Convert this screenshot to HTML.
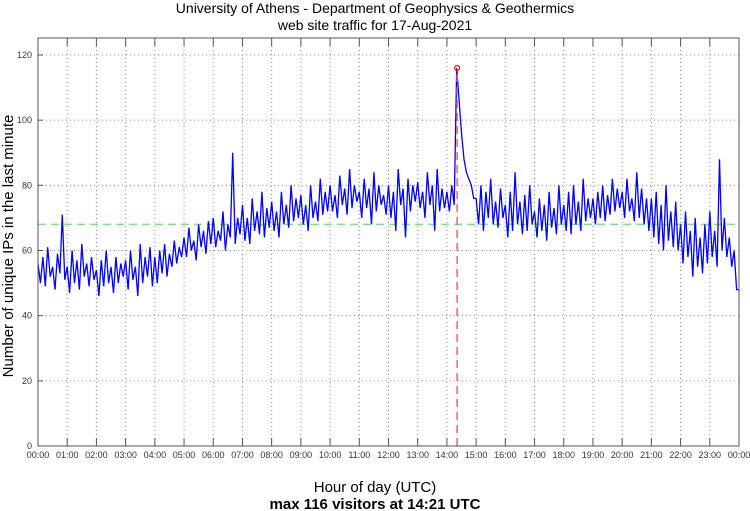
<!DOCTYPE html>
<html><head><meta charset="utf-8"><style>
body{margin:0;background:#fff;}
svg{display:block;font-family:"Liberation Sans",sans-serif;}
</style></head><body>
<svg id="chart" width="750" height="511">
<text x="375" y="13" text-anchor="middle" font-size="14">University of Athens - Department of Geophysics &amp; Geothermics</text>
<text x="375" y="30" text-anchor="middle" font-size="14">web site traffic for 17-Aug-2021</text>
<text transform="translate(13,246) rotate(-90)" text-anchor="middle" font-size="15">Number of unique IPs in the last minute</text>
<text x="375" y="492" text-anchor="middle" font-size="15">Hour of day (UTC)</text>
<text x="375" y="509" text-anchor="middle" font-size="15" font-weight="bold">max 116 visitors at 14:21 UTC</text>
<g id="grid"></g><g id="series"></g><g id="axes"></g>
</svg>
<script>
const yTicks=[0,20,40,60,80,100,120];
const xTickLabels=["00:00","01:00","02:00","03:00","04:00","05:00","06:00","07:00","08:00","09:00","10:00","11:00","12:00","13:00","14:00","15:00","16:00","17:00","18:00","19:00","20:00","21:00","22:00","23:00","00:00"];
const meanLevel=68;
const maxValue=116;
const maxMinute=14*60+21;
const stepMinutes=5;
const visitors=[
56,50,58,49,61,52,55,48,59,53,71,51,
55,47,60,50,57,48,62,52,56,49,58,51,
54,46,57,49,60,50,55,47,58,50,56,52,
57,48,60,51,55,46,62,50,58,52,61,49,
58,50,60,53,62,52,59,55,63,56,61,58,
64,58,67,60,63,57,68,61,66,59,69,62,
70,61,66,63,72,60,68,64,90,62,70,65,
74,63,70,62,76,66,72,65,78,64,73,67,
75,66,72,64,78,68,74,67,80,69,76,70,
77,68,74,66,80,70,75,69,82,71,78,72,
80,72,77,70,83,74,79,71,85,73,80,75,
78,70,82,73,79,68,84,72,80,74,77,71,
80,70,78,66,85,74,79,64,82,72,80,75,
81,73,78,70,84,74,80,66,85,72,79,73,
78,72,80,74,116,106,96,88,84,82,80,76,
76,68,80,66,78,70,82,68,75,67,79,70,
74,64,78,66,84,68,75,65,77,66,80,68,
72,64,76,66,74,63,78,67,73,65,80,68,
74,66,78,65,80,68,75,66,82,69,76,70,
76,68,78,70,80,69,77,71,82,72,79,73,
78,70,82,72,76,69,84,70,79,68,76,66,
76,64,78,62,74,60,80,63,72,61,75,60,
68,56,72,58,66,52,70,55,64,53,68,56,
72,58,66,55,88,60,70,58,64,55,60,48,
48];
const L=38,R=739,T=38,B=446;
const xS=m=>L+(R-L)*m/1440;
const yS=v=>B-(B-55)*v/120;
const NS="http://www.w3.org/2000/svg";
function mk(tag,attrs,parent){const e=document.createElementNS(NS,tag);for(const k in attrs)e.setAttribute(k,attrs[k]);parent.appendChild(e);return e;}
const grid=document.getElementById('grid'),ser=document.getElementById('series'),ax=document.getElementById('axes');
yTicks.forEach(v=>{
  if(v>0&&v<125){const g=mk('line',{x1:L,x2:R,y1:yS(v),y2:yS(v),stroke:'#888','stroke-width':1,'stroke-dasharray':'1,3'},grid);
  
  }
  const tk=mk('line',{x1:L,x2:L+5,y1:yS(v),y2:yS(v),stroke:'#555'},ax);
  
  
  const t=mk('text',{x:L-6,y:yS(v)+3,'text-anchor':'end','font-size':9,fill:'#333'},ax);t.textContent=v;
  
  
});
xTickLabels.forEach((lab,i)=>{
  const x=xS(i*60);
  if(i>0&&i<24){const g=mk('line',{x1:x,x2:x,y1:T,y2:B,stroke:'#888','stroke-width':1,'stroke-dasharray':'1,3'},grid);
  
  }
  const tk=mk('line',{x1:x,x2:x,y1:B,y2:B-8,stroke:'#555'},ax);
  
  
  const tk2=mk('line',{x1:x,x2:x,y1:T,y2:T+8,stroke:'#555'},ax);
  
  
  const t=mk('text',{x:x,y:B+12,'text-anchor':'middle','font-size':9,fill:'#333'},ax);t.textContent=lab;
  
  
});
const frame=mk('rect',{x:L,y:T,width:R-L,height:B-T,fill:'none',stroke:'#555','stroke-width':1},ax);


const mean=mk('line',{x1:L,x2:R,y1:yS(meanLevel),y2:yS(meanLevel),stroke:'#7fe07f','stroke-width':1.5,'stroke-dasharray':'8,5'},ser);


let d='';visitors.forEach((v,i)=>{d+=(i?'L':'M')+xS(i*stepMinutes).toFixed(1)+','+yS(v).toFixed(1);});
const p=mk('path',{d:d,fill:'none',stroke:'#0000ff','stroke-width':1.3},ser);


const mx=mk('line',{x1:xS(maxMinute),x2:xS(maxMinute),y1:B,y2:yS(maxValue),stroke:'#ff6060','stroke-width':1.5,'stroke-dasharray':'8,5'},ser);


const c=mk('circle',{cx:xS(maxMinute),cy:yS(maxValue),r:2.5,fill:'none',stroke:'#ff0000','stroke-width':1.2},ser);


</script>
</body></html>
